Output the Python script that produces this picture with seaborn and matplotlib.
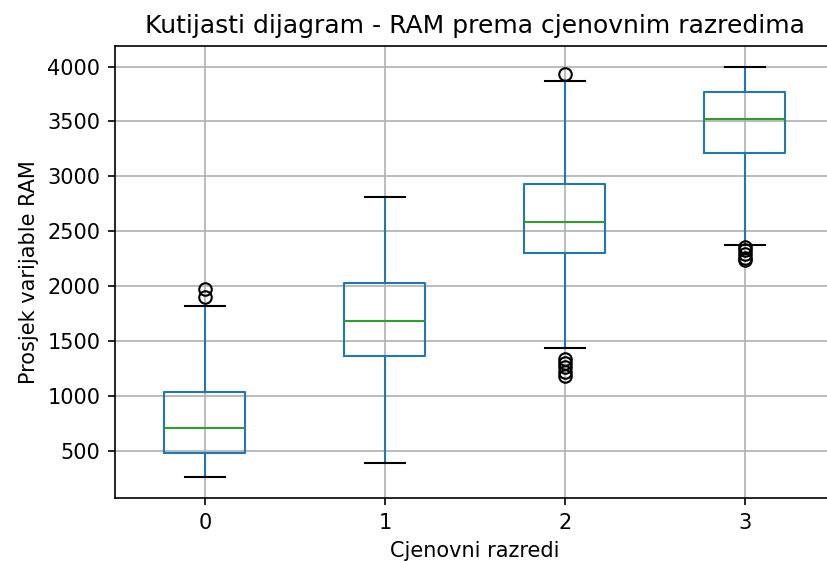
import matplotlib
matplotlib.use('Agg')
from matplotlib import pyplot as plt
import seaborn as sns

# price classes and RAM box statistics
classes = ['0', '1', '2', '3']
whislo = [257, 388, 1439, 2375]
q1 = [479, 1366, 2302, 3217]
med = [712, 1685, 2581, 3520]
q3 = [1038, 2029, 2931, 3766]
whishi = [1822, 2815, 3866, 4000]
fliers = [
    [1897, 1977],
    [],
    [3934, 1340, 1300, 1260, 1220, 1185],
    [2360, 2330, 2290, 2260, 2240],
]

pal = sns.color_palette('tab10')
box_color = pal[0]
median_color = pal[2]

stats = []
for i, name in enumerate(classes):
    stats.append({
        'label': name,
        'whislo': whislo[i],
        'q1': q1[i],
        'med': med[i],
        'q3': q3[i],
        'whishi': whishi[i],
        'fliers': fliers[i],
    })

dpi = 150
fig = plt.figure(figsize=(828 / dpi, 562 / dpi), dpi=dpi)
ax = fig.add_axes([115 / 828, 1 - 498 / 562, 720 / 828, 452 / 562])

ax.bxp(stats, positions=range(1, len(classes) + 1), widths=0.45,
       boxprops=dict(color=box_color),
       whiskerprops=dict(color=box_color),
       capprops=dict(color='black'),
       medianprops=dict(color=median_color),
       flierprops=dict(marker='o', markerfacecolor='none',
                       markeredgecolor='black', markersize=6))

ax.set_xticks(range(1, len(classes) + 1))
ax.set_xticklabels(classes)
ax.set_xlim(0.5, len(classes) + 0.5)
ax.grid(True)
ax.set_axisbelow(True)

ax.set_title("Kutijasti dijagram - RAM prema cjenovnim razredima")
ax.set_xlabel("Cjenovni razredi")
ax.set_ylabel("Prosjek varijable RAM")

fig.savefig('out.png', dpi=dpi)
